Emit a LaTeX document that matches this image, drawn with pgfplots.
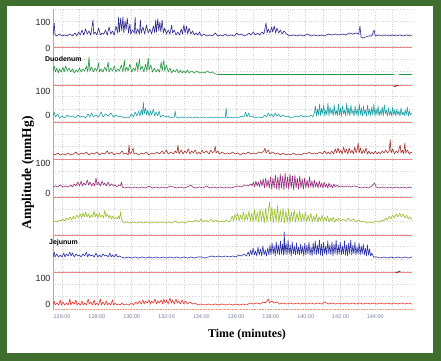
\documentclass[border=0pt]{standalone}
\usepackage{pgfplots}
\pgfplotsset{compat=1.18}
\usepackage{fontspec}
\setmainfont{Liberation Serif}
\newfontfamily\arial{Liberation Sans}
\definecolor{bggreen}{RGB}{63,110,47}
\definecolor{cA}{RGB}{45,40,140}
\definecolor{cB}{RGB}{35,150,65}
\definecolor{cC}{RGB}{30,160,165}
\definecolor{cD}{RGB}{165,50,45}
\definecolor{cE}{RGB}{150,45,125}
\definecolor{cF}{RGB}{155,190,45}
\definecolor{cG}{RGB}{45,50,165}
\definecolor{cH}{RGB}{230,50,40}
\definecolor{sepred}{RGB}{235,135,135}
\definecolor{axisorange}{RGB}{240,150,110}
\definecolor{xlab}{RGB}{120,130,160}
\begin{document}
\begin{tikzpicture}
\fill[bggreen] (-53bp,-52bp) rectangle (388bp,309bp);
\fill[white] (-46bp,-44bp) rectangle (380bp,303bp);
\begin{axis}[
  at={(0,0)}, anchor=south west, scale only axis,
  width=359bp, height=300bp,
  xmin=125.48, xmax=146.11, ymin=0, ymax=300,
  axis x line=bottom, axis y line=left,
  x axis line style={-, densely dotted, draw=axisorange, line width=0.6pt},
  y axis line style={-, draw=axisorange, line width=0.6pt},
  xtick={126,128,130,132,134,136,138,140,142,144},
  xticklabels={126:00,128:00,130:00,132:00,134:00,136:00,138:00,140:00,142:00,144:00},
  minor xtick={127,129,131,133,135,137,139,141,143,145},
  xmajorgrids, xminorgrids,
  ytick={5,31,116,146,194,218,261,287},
  yticklabels={0,100,0,100,0,100,0,100},
  minor ytick={12.5,25,...,300}, yminorgrids,
  major grid style={gray!35, dotted},
  minor grid style={gray!35, dotted},
  major tick length=0pt, minor tick length=0pt,
  xticklabel style={font=\arial\fontsize{5.5}{6}\selectfont, text=xlab, yshift=-2.5bp},
  yticklabel style={font=\arial\fontsize{9}{9}\selectfont, text=black!85, xshift=1bp},
  every axis plot/.append style={line width=0.6pt, line join=round},
]
% separators
\addplot[sepred, forget plot] coordinates {(125.48,262) (146.11,262)};
\addplot[sepred, forget plot] coordinates {(125.48,224) (146.11,224)};
\addplot[sepred, forget plot] coordinates {(125.48,187) (146.11,187)};
\addplot[sepred, forget plot] coordinates {(125.48,150) (146.11,150)};
\addplot[sepred, forget plot] coordinates {(125.48,112) (146.11,112)};
\addplot[sepred, forget plot] coordinates {(125.48,74) (146.11,74)};
\addplot[sepred, forget plot] coordinates {(125.48,37) (146.11,37)};
\addplot[cD!80!black, forget plot] coordinates {(145.05,223) (145.15,222) (145.25,224) (145.35,223)};
\addplot[cD!80!black, forget plot] coordinates {(145.15,37) (145.25,36) (145.35,38) (145.45,37)};
% channel 1
\addplot[cA] coordinates {(125.48,274) (125.55,286) (125.6,274) (125.7,273) (125.85,275) (126.0,273) (126.15,274) (126.3,273) (126.45,275) (126.6,273)
(126.75,276) (126.85,273) (126.95,277) (127.05,274) (127.15,279) (127.25,274) (127.35,280) (127.45,275) (127.55,278) (127.65,274) (127.78,289) (127.82,275) (127.9,277) (128.0,274) (128.1,281) (128.2,274) (128.3,276)
(128.4,275) (128.5,279) (128.6,274) (128.7,282) (128.8,275) (128.9,278) (129.0,274) (129.1,283)
(129.2,276) (129.25,292) (129.3,277) (129.37,291) (129.43,278) (129.5,292) (129.55,276) (129.62,288) (129.68,279) (129.75,291) (129.82,276) (129.9,285) (129.95,275) (130.05,279) (130.15,276) (130.2,292) (130.25,275)
(130.35,280) (130.45,275) (130.5,289) (130.55,276) (130.65,282) (130.75,275) (130.85,284) (130.95,276) (131.05,280) (131.15,275) (131.25,283)
(131.33,276) (131.38,289) (131.43,277) (131.5,290) (131.56,278) (131.62,287) (131.68,277) (131.75,289) (131.82,276) (131.9,281)
(132.0,275) (132.1,279) (132.2,275) (132.3,284) (132.35,276) (132.45,279) (132.55,274) (132.65,277) (132.75,274) (132.85,280) (132.92,275) (133.0,284) (133.07,276) (133.15,283) (133.22,275) (133.3,281)
(133.4,275) (133.5,278) (133.6,274) (133.7,276) (133.8,274) (133.9,277) (134.0,273) (134.15,275) (134.3,273) (134.5,274) (134.65,273) (134.8,276) (134.95,273) (135.1,274) (135.25,273)
(135.4,275) (135.5,273) (135.7,274) (135.9,273) (136.05,276) (136.15,274) (136.3,275) (136.45,273) (136.6,274) (136.75,276) (136.85,274) (137.0,277) (137.1,274) (137.25,276) (137.35,274)
(137.5,277) (137.6,275) (137.72,286) (137.78,276) (137.85,280) (137.95,276) (138.05,282) (138.1,277) (138.2,283) (138.27,276) (138.35,281) (138.45,276) (138.55,279) (138.65,275) (138.75,278)
(138.9,275) (139.1,273) (139.3,274) (139.5,273) (139.7,274) (139.9,273) (140.1,275) (140.3,273) (140.5,274) (140.7,273) (140.9,274) (141.1,273) (141.3,275) (141.5,274) (141.7,275) (141.9,274) (142.1,275) (142.3,274) (142.5,276) (142.7,275) (142.9,276) (143.05,275) (143.12,283) (143.18,272) (143.3,271) (143.45,272) (143.6,273) (143.8,273) (143.93,279) (144.0,273) (144.2,274) (144.4,273) (144.6,274) (144.8,273) (145.0,274) (145.2,273) (145.4,274) (145.6,273) (145.8,274) (146.0,273) (146.1,274)};
% channel 2 (duodenum)
\addplot[cB] coordinates {(125.48,238) (125.55,243) (125.62,237) (125.7,241) (125.78,236) (125.85,240) (125.95,237) (126.05,242) (126.12,237) (126.2,243) (126.3,238) (126.4,241) (126.5,237) (126.6,240) (126.7,236) (126.8,239) (126.9,237) (127.0,241) (127.1,237) (127.2,240) (127.3,238) (127.4,243) (127.48,237) (127.55,252) (127.6,238) (127.7,242) (127.8,237) (127.9,241) (128.0,238) (128.1,246) (128.15,237) (128.25,240) (128.35,237) (128.45,242) (128.55,238) (128.65,247) (128.7,237) (128.8,241) (128.9,238) (129.0,243) (129.1,237) (129.2,240) (129.3,238) (129.4,244) (129.5,237) (129.58,249) (129.63,238) (129.72,242) (129.8,238) (129.9,245) (130.0,237) (130.1,241) (130.2,238) (130.3,247) (130.35,238) (130.45,250) (130.5,239) (130.6,243) (130.7,237) (130.8,245) (130.88,238) (130.95,251) (131.0,239) (131.1,244) (131.2,237) (131.3,241) (131.4,237) (131.5,240) (131.6,237) (131.7,247) (131.75,238) (131.85,249) (131.9,238) (132.0,244) (132.1,237) (132.2,241) (132.3,236) (132.4,239) (132.5,237) (132.6,240) (132.7,236) (132.8,239) (132.9,236) (133.0,238) (133.1,236) (133.2,239) (133.3,236) (133.45,238) (133.6,236) (133.75,238) (133.9,236) (134.05,237) (134.2,236) (134.35,238) (134.5,236) (134.65,237) (134.8,235) (135.0,234.5) (136.0,234.5) (137.0,234.5) (138.0,234.5) (139.0,234.5) (140.0,234.5) (141.0,234.5) (142.0,234.5) (143.0,234.5) (144.0,234.5) (145.0,234.5) (145.1,234.5)};
\addplot[cB, forget plot] coordinates {(145.35,234.5) (145.7,234.5) (146.1,234.5)};
% channel 3
\addplot[cC] coordinates {(125.48,193) (125.55,197) (125.62,192) (125.75,195) (125.85,191) (126.0,193) (126.15,191) (126.3,194) (126.45,192) (126.6,193) (126.75,191) (126.9,194) (127.05,192) (127.2,193) (127.35,191) (127.5,195) (127.6,192) (127.7,196) (127.8,192) (127.95,194) (128.1,192) (128.25,197) (128.35,192) (128.5,195) (128.65,193) (128.8,196) (128.95,192) (129.1,194) (129.25,192) (129.4,193) (129.55,191) (129.7,192) (129.85,191) (130.0,195) (130.1,192) (130.2,197) (130.3,193)
(130.4,198) (130.48,193) (130.55,199) (130.62,194) (130.67,207) (130.72,195) (130.8,201) (130.86,194) (130.93,199) (131.0,193) (131.08,198) (131.15,194) (131.25,200) (131.32,193) (131.4,197) (131.5,193) (131.58,198) (131.65,192) (131.8,194) (131.95,192) (132.1,193) (132.2,191)
(132.45,192) (132.5,198) (132.55,192) (132.7,191) (132.9,192) (133.1,191) (133.3,192) (133.5,191) (133.7,192) (133.9,191) (134.1,192) (134.3,191) (134.5,192) (134.7,191) (134.85,192)
(135.0,191) (135.2,192) (135.38,191) (135.43,201) (135.48,191) (135.6,192) (135.8,191) (135.95,192)
(136.1,191) (136.3,193) (136.45,192) (136.55,197) (136.62,192) (136.72,196) (136.8,192) (136.95,193) (137.1,191) (137.3,192) (137.5,191) (137.65,194) (137.75,192) (137.85,196) (137.95,193) (138.05,195) (138.15,192) (138.25,196) (138.35,193) (138.45,195) (138.55,192) (138.7,194) (138.85,192) (139.0,193) (139.15,191) (139.3,192) (139.45,193) (139.6,192) (139.75,194) (139.85,192) (140.0,193) (140.15,192) (140.3,194) (140.4,192)
(140.5,196) (140.56,203) (140.62,193) (140.68,200) (140.74,194) (140.8,205) (140.86,193) (140.92,201) (140.98,195) (141.04,204) (141.1,193) (141.16,199) (141.22,194) (141.28,206) (141.34,193) (141.4,202) (141.46,195) (141.52,200) (141.58,193) (141.64,204) (141.7,194) (141.76,199) (141.82,193) (141.88,205) (141.94,194) (142.0,201) (142.06,193) (142.12,203) (142.18,195) (142.24,199) (142.3,193) (142.36,206) (142.42,194) (142.48,201) (142.54,193) (142.6,204) (142.66,195) (142.72,199) (142.78,193) (142.84,203) (142.9,194) (142.96,200) (143.02,193) (143.08,205) (143.14,194) (143.2,201) (143.26,193) (143.32,203) (143.38,195) (143.44,199) (143.5,193) (143.56,204) (143.62,194) (143.68,200) (143.74,193) (143.8,202) (143.86,194) (143.92,205) (143.98,193) (144.04,200) (144.1,194) (144.16,203) (144.22,193) (144.28,199) (144.34,194) (144.4,202) (144.46,193) (144.52,204) (144.58,195) (144.64,199) (144.7,193) (144.76,201) (144.82,194) (144.88,198) (144.94,193) (145.0,202) (145.06,194) (145.12,199) (145.18,193) (145.24,200) (145.3,194) (145.36,198) (145.42,193) (145.48,201) (145.54,194) (145.6,197) (145.66,193) (145.72,199) (145.78,194) (145.84,202) (145.9,193) (145.96,198) (146.02,194) (146.1,196)};
% channel 4
\addplot[cD] coordinates {(125.48,155) (125.6,154) (125.75,156) (125.9,154) (126.05,155) (126.2,154) (126.35,156) (126.5,154) (126.65,155) (126.8,157) (126.95,154) (127.1,156) (127.25,155) (127.4,157) (127.55,154) (127.7,156) (127.85,155) (128.0,157) (128.15,154) (128.3,156) (128.45,155) (128.6,158) (128.7,155) (128.85,157) (129.0,154) (129.15,156) (129.3,155) (129.45,158) (129.55,155) (129.7,156) (129.8,154)
(129.85,164) (129.9,155) (130.0,157) (130.08,161) (130.13,155) (130.25,156) (130.4,154) (130.55,156) (130.7,155) (130.85,157) (131.0,154) (131.15,156) (131.3,155) (131.45,157) (131.6,155) (131.75,158) (131.85,155) (132.0,159) (132.1,155) (132.25,157) (132.4,155) (132.5,158)
(132.6,156) (132.66,164) (132.72,155) (132.85,159) (132.95,155) (133.05,158) (133.15,156) (133.25,160) (133.35,155) (133.45,158) (133.55,156) (133.65,159) (133.75,155) (133.85,157) (133.95,155) (134.05,159) (134.15,156) (134.3,158) (134.45,155) (134.55,159) (134.65,156) (134.75,158) (134.8,163) (134.85,156) (134.95,158) (135.05,155) (135.2,157) (135.35,155) (135.5,156) (135.65,155) (135.8,157) (135.95,155) (136.1,156) (136.25,154) (136.4,156) (136.55,155) (136.7,157) (136.85,155) (137.0,156) (137.15,155) (137.3,157) (137.45,156)
(137.6,158) (137.66,161) (137.72,156) (137.85,159) (137.95,155) (138.1,157) (138.25,155) (138.4,156) (138.55,154) (138.7,156) (138.85,154) (139.0,155) (139.15,154) (139.3,156) (139.45,154) (139.6,155) (139.75,154) (139.9,156) (140.05,155) (140.2,157) (140.35,155) (140.5,156) (140.65,155) (140.8,157) (140.95,155) (141.1,158) (141.2,155) (141.3,157) (141.4,155)
(141.5,158) (141.6,155) (141.7,160) (141.78,156) (141.86,161) (141.94,156) (142.02,159) (142.1,155) (142.18,162) (142.26,156) (142.34,160) (142.42,155) (142.5,161) (142.58,156) (142.66,159) (142.74,155) (142.82,162) (142.9,156) (142.97,160) (143.02,166) (143.07,156) (143.15,161) (143.23,155) (143.31,159) (143.39,156) (143.47,161) (143.55,155) (143.63,158) (143.71,155) (143.8,157) (143.9,155) (144.0,158) (144.1,155) (144.2,157) (144.3,155) (144.4,158) (144.5,156)
(144.6,159) (144.7,156) (144.8,158) (144.86,169) (144.91,156) (145.0,160) (145.1,155) (145.2,158) (145.3,156) (145.38,161) (145.43,164) (145.48,156) (145.56,159) (145.63,155) (145.7,166) (145.75,156) (145.85,159) (145.95,155) (146.05,157) (146.1,156)};
% channel 5
\addplot[cE] coordinates {(125.48,122) (125.6,123) (125.75,122) (125.9,124) (126.05,122) (126.2,123) (126.35,122) (126.5,124) (126.6,122) (126.7,125) (126.8,123) (126.9,127) (127.0,123) (127.1,128) (127.17,123) (127.25,126) (127.35,124) (127.45,129) (127.52,124) (127.6,127) (127.7,123) (127.8,126) (127.88,123) (127.95,131) (128.02,124) (128.1,127) (128.2,123) (128.3,128) (128.38,124) (128.45,126) (128.55,123) (128.65,127) (128.75,123) (128.85,125) (128.95,123) (129.05,124) (129.15,122) (129.25,124) (129.35,123) (129.42,127) (129.47,122) (129.6,121)
(129.8,122) (130.0,121) (130.2,122) (130.4,121) (130.6,122) (130.8,121) (131.0,123) (131.2,121) (131.4,122) (131.6,121) (131.8,122) (132.0,121) (132.2,123) (132.4,122) (132.6,121) (132.8,122) (133.0,121) (133.2,122) (133.4,124) (133.5,122) (133.7,121) (133.9,122) (134.1,121) (134.3,123) (134.5,121) (134.7,122) (134.9,121) (135.1,122) (135.3,121) (135.5,122) (135.7,121)
(135.9,122) (136.1,123) (136.3,122) (136.5,124) (136.7,123) (136.85,125)
(136.92,123) (137.0,127) (137.07,122) (137.14,128) (137.21,123) (137.28,127) (137.35,122) (137.42,129) (137.49,123) (137.56,130) (137.63,121) (137.7,131) (137.77,122) (137.84,129) (137.91,121) (137.98,132) (138.05,120) (138.12,131) (138.19,121) (138.26,134) (138.33,120) (138.4,132) (138.47,119) (138.54,135) (138.61,121) (138.68,133) (138.75,119) (138.82,136) (138.89,121) (138.96,132) (139.03,120) (139.1,135) (139.17,121) (139.24,133) (139.31,119) (139.38,134) (139.45,121) (139.52,131) (139.59,120) (139.66,133) (139.73,121) (139.8,130) (139.87,120) (139.94,131) (140.01,121) (140.08,129) (140.15,121) (140.22,132) (140.29,122) (140.36,128) (140.43,121) (140.5,129) (140.57,122) (140.64,127) (140.71,121) (140.78,128) (140.85,122) (140.92,126) (140.99,121) (141.06,127) (141.13,122) (141.2,125) (141.27,121) (141.34,126) (141.41,122) (141.48,124) (141.55,121) (141.62,125) (141.7,122) (141.8,124) (141.9,122) (142.0,123)
(142.2,122) (142.4,123) (142.6,122) (142.8,123) (143.0,122) (143.2,121) (143.4,122) (143.6,121) (143.8,123) (143.95,126) (144.05,122) (144.2,121) (144.4,122) (144.6,121) (144.8,122) (145.0,121) (145.2,122) (145.4,121) (145.6,122) (145.8,121) (146.0,122) (146.1,121)};
% channel 6
\addplot[cF] coordinates {(125.48,87) (125.6,88) (125.72,87) (125.85,89) (125.95,88) (126.05,90) (126.15,88) (126.25,91) (126.35,89) (126.45,92) (126.55,89) (126.65,93) (126.75,90) (126.85,94) (126.95,91) (127.05,95) (127.12,91) (127.2,96) (127.28,92) (127.36,97) (127.44,92) (127.52,95) (127.6,91) (127.68,94) (127.76,92) (127.84,98) (127.9,92) (127.98,95) (128.06,91) (128.14,96) (128.22,92) (128.3,94) (128.38,91) (128.46,99) (128.52,92) (128.6,95) (128.68,91) (128.76,94) (128.84,90) (128.92,93) (129.0,90) (129.08,92) (129.16,90) (129.24,93) (129.3,90) (129.36,97) (129.42,90) (129.48,88) (129.55,86)
(129.7,87) (129.9,86) (130.1,87) (130.3,86) (130.5,87) (130.7,86) (130.9,87) (131.1,86) (131.3,87) (131.5,86) (131.7,87) (131.9,86) (132.1,87) (132.3,86) (132.5,88) (132.7,86) (132.9,87) (133.1,86) (133.3,88) (133.5,87) (133.7,89) (133.85,87) (134.0,90) (134.1,87) (134.25,89) (134.4,87) (134.55,90) (134.7,87) (134.85,89) (135.0,87) (135.15,88) (135.3,87) (135.45,89) (135.6,87)
(135.7,89) (135.78,93) (135.86,88) (135.94,95) (136.02,89) (136.1,96) (136.18,88) (136.26,94) (136.34,89) (136.42,97) (136.5,88) (136.58,95) (136.66,89) (136.74,98) (136.82,88) (136.9,96) (136.98,87) (137.06,99) (137.14,88) (137.22,97) (137.3,87) (137.38,100) (137.46,88) (137.54,98) (137.62,86) (137.7,101) (137.78,87) (137.86,99) (137.93,107) (137.98,88) (138.06,102) (138.14,86) (138.22,100) (138.3,87) (138.38,103) (138.46,86) (138.54,99) (138.62,87) (138.7,101) (138.78,86) (138.86,98) (138.94,87) (139.02,100) (139.1,86) (139.18,97) (139.26,88) (139.34,99) (139.42,87) (139.5,96) (139.58,88) (139.66,98) (139.74,87) (139.82,95) (139.9,88) (139.98,97) (140.06,87) (140.14,94) (140.22,88) (140.3,96) (140.38,87) (140.46,93) (140.54,88) (140.62,95) (140.7,87) (140.78,92) (140.86,88) (140.94,94) (141.02,87) (141.1,92) (141.18,88) (141.26,93) (141.34,87) (141.42,91) (141.5,88) (141.58,92) (141.66,87) (141.74,90) (141.82,88) (141.9,91) (142.0,88)
(142.15,90) (142.3,88) (142.45,91) (142.6,88) (142.75,90) (142.9,87) (143.05,89) (143.2,87) (143.35,88) (143.5,86) (143.65,87) (143.8,86) (143.95,87) (144.1,88) (144.25,87) (144.4,89) (144.5,88) (144.6,91) (144.7,89) (144.8,93) (144.9,90) (145.0,94) (145.1,91) (145.2,95) (145.3,92) (145.4,96) (145.5,92) (145.6,95) (145.7,91) (145.8,94) (145.9,90) (146.0,92) (146.1,89)};
% channel 7 (jejunum)
\addplot[cG] coordinates {(125.48,52) (125.55,57) (125.6,52) (125.7,55) (125.8,52) (125.9,54) (126.0,52) (126.1,56) (126.17,52) (126.25,55) (126.35,53) (126.45,57) (126.52,53) (126.6,56) (126.7,52) (126.8,55) (126.9,53) (127.0,54) (127.1,52) (127.2,55) (127.3,53) (127.4,57) (127.47,52) (127.55,55) (127.65,53) (127.75,54) (127.85,52) (127.95,56) (128.05,52) (128.15,54) (128.25,52) (128.35,55) (128.45,53) (128.55,54) (128.65,52) (128.75,56) (128.82,52) (128.9,54) (129.0,52) (129.1,55) (129.18,52) (129.3,53) (129.4,52)
(129.6,51) (129.8,52) (130.0,51) (130.2,52) (130.4,51) (130.6,52) (130.8,51) (131.0,52) (131.2,51) (131.4,52) (131.6,51) (131.8,52) (132.0,51) (132.2,52) (132.4,51) (132.6,52) (132.8,51) (133.0,52) (133.2,51) (133.4,52) (133.6,51) (133.8,52) (134.0,52) (134.2,51) (134.4,52) (134.6,53) (134.8,52) (135.0,53) (135.2,52) (135.4,53) (135.6,52)
(135.8,53) (136.0,52) (136.15,54) (136.3,53) (136.45,55) (136.6,53)
(136.7,57) (136.77,53) (136.84,59) (136.91,54) (136.98,61) (137.05,54) (137.12,58) (137.19,53) (137.26,62) (137.33,54) (137.4,60) (137.47,53) (137.54,63) (137.61,54) (137.68,59) (137.75,53) (137.82,61) (137.89,54)
(137.95,64) (138.01,54) (138.07,66) (138.13,55) (138.19,63) (138.25,53) (138.31,67) (138.37,55) (138.43,64) (138.49,54) (138.55,68) (138.61,55) (138.67,65) (138.73,54) (138.77,77) (138.81,55) (138.87,66) (138.93,54) (138.99,69) (139.05,55) (139.11,64) (139.17,53) (139.23,67) (139.29,55) (139.35,63) (139.41,54) (139.47,66) (139.53,55) (139.59,62) (139.65,54) (139.71,65) (139.77,55) (139.83,63) (139.89,53) (139.95,66) (140.01,54) (140.07,64) (140.13,55) (140.19,67) (140.25,54) (140.31,62) (140.37,53) (140.43,66) (140.49,55) (140.55,68) (140.61,54) (140.67,64) (140.73,55) (140.79,69) (140.85,54) (140.91,65) (140.97,53) (141.03,67) (141.09,55) (141.15,63) (141.21,54) (141.27,68) (141.33,55) (141.39,64) (141.45,54) (141.51,67) (141.57,53) (141.63,65) (141.69,55) (141.75,69) (141.81,54) (141.87,64) (141.93,55) (141.99,67) (142.05,54) (142.11,63) (142.17,55) (142.23,68) (142.29,54) (142.35,64) (142.41,53) (142.47,66) (142.53,55) (142.59,69) (142.65,54) (142.71,64) (142.77,55) (142.83,67) (142.89,54) (142.95,62) (143.01,55) (143.07,66) (143.13,54) (143.19,63) (143.25,55) (143.31,65) (143.37,54) (143.43,61) (143.49,53) (143.55,64) (143.61,54) (143.67,60) (143.73,53) (143.8,56) (143.9,52)
(144.1,52) (144.3,51) (144.5,52) (144.7,51) (144.9,52) (145.1,51) (145.3,52) (145.5,51) (145.7,52) (145.9,51) (146.1,52)};
% channel 8
\addplot[cH] coordinates {(125.48,5) (125.55,8) (125.6,4) (125.7,6) (125.8,4) (125.9,9) (125.96,4) (126.05,7) (126.15,4) (126.25,6) (126.35,4) (126.45,10) (126.5,4) (126.6,7) (126.7,5) (126.8,9) (126.86,4) (126.95,6) (127.05,4) (127.15,8) (127.22,4) (127.3,6) (127.4,4) (127.5,10) (127.56,5) (127.65,7) (127.75,4) (127.85,9) (127.91,4) (128.0,6) (128.1,4) (128.2,10) (128.26,4) (128.35,7) (128.45,4) (128.55,8) (128.62,4) (128.7,6) (128.8,4) (128.9,9) (128.96,4) (129.05,6) (129.15,4) (129.25,5) (129.35,4) (129.45,6) (129.55,4) (129.7,5) (129.85,4) (130.0,6) (130.1,4) (130.25,7) (130.35,5) (130.45,8) (130.55,5) (130.65,9) (130.72,5) (130.8,8) (130.9,6) (131.0,9) (131.08,5) (131.15,8) (131.25,6) (131.35,10) (131.42,5) (131.5,8) (131.6,6) (131.7,9) (131.78,5) (131.85,10) (131.92,6) (132.0,9) (132.1,5) (132.2,11) (132.28,6) (132.35,9) (132.45,5) (132.55,10) (132.62,6) (132.7,8) (132.8,5) (132.9,9) (133.0,5) (133.1,8) (133.2,5) (133.35,7) (133.5,5) (133.65,6) (133.8,4) (134.0,5) (134.2,4) (134.4,5) (134.6,4) (134.8,5) (135.0,4) (135.2,5) (135.4,4) (135.6,5) (135.8,4) (136.0,5) (136.2,4) (136.4,5) (136.6,4) (136.8,6) (137.0,5) (137.2,6) (137.4,5) (137.55,7) (137.7,6) (137.85,10) (137.92,6) (138.05,8) (138.2,6) (138.35,7) (138.5,5) (138.7,6) (138.9,5) (139.1,6) (139.3,5) (139.5,6) (139.7,5) (139.9,6) (140.1,5) (140.3,6) (140.5,5) (140.7,6) (140.9,5) (141.1,7) (141.3,5) (141.5,6) (141.7,5) (141.9,6) (142.1,5) (142.3,6) (142.5,5) (142.7,6) (142.9,5) (143.1,6) (143.3,5) (143.5,6) (143.7,5) (143.9,6) (144.1,5) (144.3,6) (144.5,5) (144.7,6) (144.9,5) (145.1,6) (145.3,5) (145.5,6) (145.7,5) (145.9,6) (146.1,5)};
\end{axis}
\node[anchor=west, font=\arial\bfseries\fontsize{7}{7}\selectfont, inner sep=0pt] at (-8bp,250bp) {Duodenum};
\node[anchor=west, font=\arial\bfseries\fontsize{7}{7}\selectfont, inner sep=0pt] at (-4bp,66bp) {Jejunum};
\node[font=\bfseries\fontsize{12}{12}\selectfont, inner sep=0pt] at (194bp,-26bp) {Time (minutes)};
\node[font=\bfseries\fontsize{13.5}{13.5}\selectfont, inner sep=0pt, rotate=90] at (-25bp,136bp) {Amplitude (mmHg)};
\end{tikzpicture}
\end{document}
